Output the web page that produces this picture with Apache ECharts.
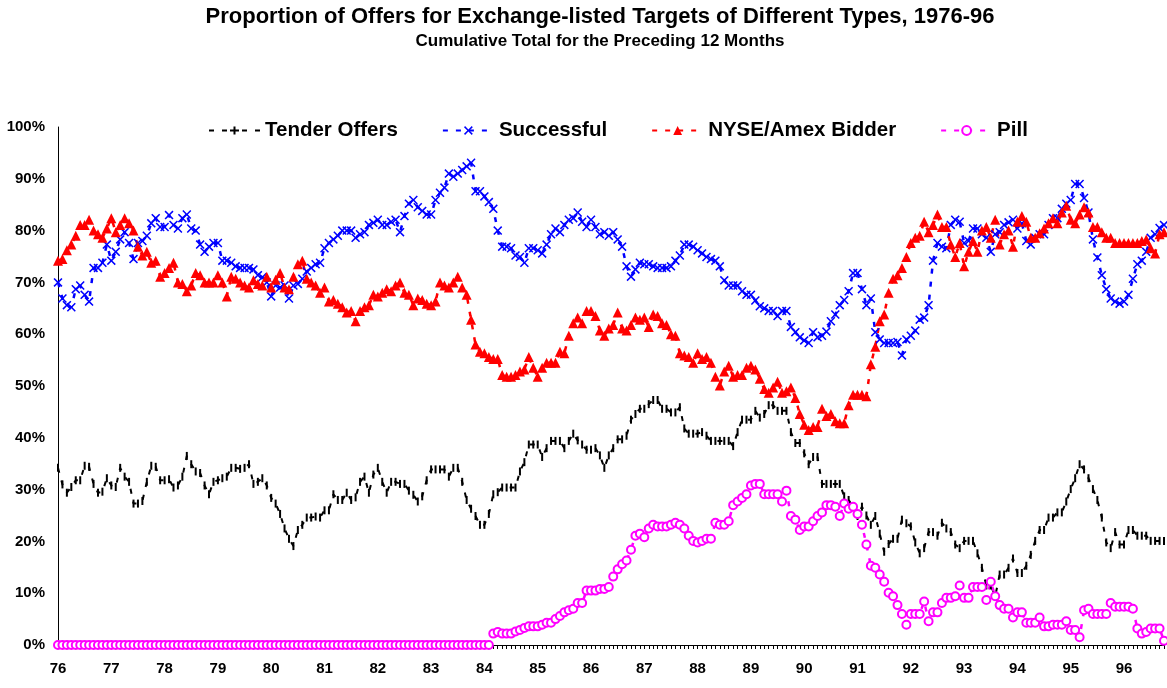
<!DOCTYPE html>
<html>
<head>
<meta charset="utf-8">
<script src="https://cdn.jsdelivr.net/npm/echarts@6/dist/echarts.min.js"></script>
<style>
  html, body { margin: 0; padding: 0; background: #fff; }
  #chart { width: 1167px; height: 688px; }
</style>
</head>
<body>
<div id="chart"></div>
<script>
// years on the x axis, one category per month (Jan 76 .. Oct 96)
const years = ['76','77','78','79','80','81','82','83','84','85','86','87','88','89','90','91','92','93','94','95','96'];
const monthsShown = 250;

// tender offers, % (one row per year)
const tenderOffers = [
  34.2, 31.0, 29.4, 30.5, 31.8, 31.8, 34.6, 34.4, 31.1, 29.4, 29.6, 32.2,
  30.8, 30.5, 34.2, 32.5, 31.5, 27.3, 27.3, 27.8, 31.5, 34.6, 34.4, 31.8,
  31.8, 32.0, 30.4, 30.8, 32.5, 36.5, 34.9, 33.5, 33.2, 30.8, 29.1, 31.5,
  31.8, 32.2, 32.5, 34.2, 34.2, 34.0, 34.2, 34.9, 31.1, 31.5, 32.2, 30.8,
  28.4, 27.3, 25.3, 22.5, 20.5, 19.1, 22.2, 23.2, 24.6, 24.6, 24.8, 24.6,
  26.0, 26.0, 29.1, 28.0, 28.0, 29.4, 28.0, 28.5, 31.5, 32.5, 29.4, 32.9,
  34.2, 31.5, 29.4, 31.5, 31.5, 31.1, 31.1, 29.8, 29.0, 27.7, 28.7, 31.8,
  33.9, 33.9, 33.9, 33.9, 32.5, 34.2, 34.2, 31.5, 28.0, 26.3, 24.9, 23.2,
  23.2, 25.3, 29.1, 29.5, 30.4, 30.4, 30.4, 30.4, 33.5, 35.3, 38.7, 38.7,
  38.7, 36.3, 38.0, 39.4, 39.4, 39.4, 38.0, 39.4, 40.8, 39.5, 38.7, 37.7,
  37.7, 38.0, 36.6, 34.2, 36.6, 38.0, 39.7, 39.7, 40.4, 43.5, 44.6, 45.6,
  45.6, 46.5, 47.3, 47.3, 45.6, 45.6, 44.9, 44.9, 45.9, 41.8, 40.8, 40.8,
  40.8, 41.1, 40.4, 39.4, 39.4, 39.4, 39.4, 39.4, 38.4, 41.1, 43.5, 43.5,
  43.5, 45.2, 43.9, 44.6, 46.3, 46.3, 45.2, 45.2, 45.2, 41.1, 39.0, 39.0,
  37.0, 34.9, 36.3, 36.3, 31.1, 31.1, 31.1, 31.1, 31.1, 28.7, 28.0, 26.7,
  24.9, 26.7, 25.0, 23.2, 24.9, 21.5, 18.0, 19.5, 20.5, 20.5, 24.2, 23.5,
  22.9, 19.8, 17.7, 18.7, 21.8, 21.8, 21.1, 23.6, 22.5, 21.8, 19.4, 18.7,
  20.1, 20.1, 20.1, 17.7, 14.9, 11.5, 11.5, 9.4, 13.6, 13.6, 14.9, 16.7,
  13.9, 13.9, 15.3, 17.4, 20.1, 22.2, 22.2, 24.6, 24.6, 25.6, 25.6, 27.7,
  30.1, 32.2, 34.9, 33.9, 32.2, 30.1, 28.0, 24.6, 19.8, 18.7, 21.8, 19.4,
  19.4, 22.2, 22.2, 21.1, 21.1, 21.1, 20.1, 20.1, 20.1, 20.1
];

// successful offers, %
const successful = [
  70.0, 66.9, 65.6, 65.2, 68.7, 69.4, 67.6, 66.3, 72.8, 72.8, 73.8, 77.3,
  74.2, 75.9, 78.3, 79.7, 77.6, 74.5, 77.6, 78.0, 79.0, 81.4, 82.4, 80.7,
  80.7, 83.0, 81.1, 80.4, 82.4, 83.1, 80.4, 80.0, 77.3, 75.9, 76.9, 77.6,
  77.6, 74.2, 74.2, 73.8, 73.1, 72.8, 72.8, 72.8, 72.5, 71.4, 71.0, 70.0,
  67.3, 69.4, 69.0, 69.4, 66.9, 69.4, 69.7, 70.7, 72.1, 72.8, 73.5, 73.8,
  76.6, 77.6, 78.3, 79.0, 80.0, 80.0, 80.0, 78.6, 79.3, 79.7, 81.1, 81.5,
  82.1, 81.1, 81.1, 81.7, 82.1, 79.7, 82.8, 85.2, 85.9, 84.5, 83.8, 83.1,
  83.1, 85.9, 87.3, 88.3, 91.0, 90.4, 91.0, 91.7, 92.4, 93.1, 87.6, 87.6,
  86.6, 85.5, 84.2, 80.0, 76.9, 76.9, 76.6, 75.2, 74.9, 73.8, 76.6, 76.6,
  76.2, 75.6, 77.3, 79.3, 80.4, 79.7, 81.1, 82.1, 82.4, 83.5, 81.7, 80.7,
  82.1, 80.7, 79.3, 79.7, 79.0, 79.7, 78.3, 76.9, 73.1, 71.1, 72.5, 73.8,
  73.5, 73.5, 73.1, 72.8, 72.8, 72.8, 73.1, 74.2, 75.2, 77.3, 77.3, 76.9,
  76.2, 75.6, 74.9, 74.5, 74.2, 73.1, 70.4, 69.4, 69.4, 69.4, 68.3, 67.6,
  67.6, 66.5, 65.4, 65.0, 64.5, 64.5, 63.5, 64.5, 64.5, 61.4, 60.4, 59.4,
  58.8, 58.3, 60.4, 59.4, 59.7, 60.5, 62.5, 63.8, 65.6, 66.6, 68.3, 71.8,
  71.8, 68.7, 65.6, 66.9, 60.4, 59.0, 58.3, 58.3, 58.3, 58.5, 55.9, 59.0,
  59.7, 60.7, 62.8, 63.2, 65.6, 74.2, 77.6, 76.9, 76.6, 81.1, 82.1, 81.7,
  77.6, 78.0, 80.4, 80.4, 79.3, 78.6, 75.9, 79.3, 79.7, 81.1, 81.6, 82.1,
  80.4, 81.4, 78.0, 77.3, 78.6, 79.3, 79.3, 81.1, 82.4, 82.4, 84.2, 85.2,
  85.9, 89.0, 89.0, 86.3, 83.5, 78.3, 74.8, 71.4, 68.7, 66.9, 66.3, 65.9,
  66.3, 67.6, 70.7, 73.5, 74.2, 75.9, 78.6, 79.3, 80.5, 81.1
];

// NYSE/Amex bidder, %
const nyseAmexBidder = [
  74.2, 74.5, 76.2, 77.3, 79.0, 81.1, 81.1, 82.1, 80.0, 79.3, 78.6, 80.4,
  82.4, 79.7, 81.1, 82.4, 81.4, 80.0, 76.9, 75.2, 75.9, 73.8, 74.2, 71.1,
  71.8, 72.8, 73.8, 70.0, 69.7, 68.3, 69.4, 71.8, 71.4, 70.0, 70.0, 70.0,
  71.4, 70.0, 67.3, 71.1, 70.7, 70.0, 69.4, 69.0, 70.4, 69.7, 69.4, 71.1,
  69.0, 70.5, 71.8, 69.0, 68.7, 71.1, 73.5, 74.2, 70.7, 70.0, 69.4, 68.0,
  69.0, 66.3, 66.6, 65.9, 65.2, 64.2, 64.5, 62.5, 64.5, 65.2, 65.6, 67.6,
  67.3, 68.0, 68.7, 68.3, 69.4, 70.0, 68.0, 67.6, 65.6, 66.9, 66.6, 65.9,
  65.6, 66.3, 70.0, 69.4, 69.0, 70.0, 71.1, 69.0, 67.6, 62.8, 58.0, 56.6,
  56.3, 55.6, 55.2, 55.2, 52.1, 51.8, 51.8, 52.1, 52.8, 53.2, 55.6, 53.5,
  51.8, 53.5, 54.5, 54.5, 54.5, 56.6, 56.3, 59.7, 62.1, 63.2, 62.1, 64.5,
  64.5, 63.5, 60.7, 59.7, 61.1, 61.8, 64.2, 61.1, 60.7, 61.8, 63.2, 62.8,
  63.2, 61.4, 63.8, 63.5, 62.1, 61.8, 60.0, 59.7, 56.3, 55.9, 55.6, 54.5,
  56.3, 55.2, 55.6, 54.5, 51.8, 50.1, 52.8, 53.9, 51.8, 52.1, 52.1, 53.5,
  53.9, 53.2, 51.4, 49.4, 48.7, 49.7, 50.8, 48.7, 49.0, 49.7, 47.7, 44.6,
  42.5, 41.5, 42.1, 42.1, 45.6, 44.2, 44.6, 43.2, 42.8, 42.8, 46.3, 48.3,
  48.3, 48.3, 48.0, 54.2, 57.6, 62.5, 63.8, 68.0, 70.7, 71.4, 72.8, 74.9,
  77.6, 78.6, 79.0, 81.7, 79.7, 81.1, 83.1, 80.7, 80.7, 77.3, 74.9, 77.6,
  73.1, 75.9, 78.0, 75.9, 80.0, 80.7, 78.6, 82.1, 77.3, 79.3, 80.0, 76.9,
  81.7, 82.8, 81.7, 78.6, 78.6, 79.5, 80.4, 81.4, 82.4, 81.4, 83.5, 84.8,
  82.1, 81.4, 83.1, 84.5, 83.5, 80.7, 80.7, 79.7, 78.6, 78.6, 77.6, 77.6,
  77.6, 77.6, 77.6, 77.6, 78.0, 78.3, 76.6, 75.6, 79.3, 79.7
];

// poison pill, %
const pill = [
  0, 0, 0, 0, 0, 0, 0, 0, 0, 0, 0, 0,
  0, 0, 0, 0, 0, 0, 0, 0, 0, 0, 0, 0,
  0, 0, 0, 0, 0, 0, 0, 0, 0, 0, 0, 0,
  0, 0, 0, 0, 0, 0, 0, 0, 0, 0, 0, 0,
  0, 0, 0, 0, 0, 0, 0, 0, 0, 0, 0, 0,
  0, 0, 0, 0, 0, 0, 0, 0, 0, 0, 0, 0,
  0, 0, 0, 0, 0, 0, 0, 0, 0, 0, 0, 0,
  0, 0, 0, 0, 0, 0, 0, 0, 0, 0, 0, 0,
  0, 0, 2.2, 2.5, 2.2, 2.2, 2.2, 2.6, 2.9, 3.3, 3.6, 3.6,
  3.6, 3.9, 4.3, 4.3, 5.0, 5.6, 6.3, 6.7, 7.0, 8.1, 8.1, 10.5,
  10.5, 10.5, 10.8, 10.8, 11.2, 13.2, 14.6, 15.6, 16.3, 18.4, 21.1, 21.5,
  20.8, 22.5, 23.2, 22.9, 22.9, 22.9, 23.2, 23.6, 23.2, 22.5, 21.1, 20.1,
  19.8, 20.1, 20.5, 20.5, 23.6, 23.2, 23.2, 23.9, 27.0, 27.7, 28.4, 29.1,
  30.8, 31.1, 31.1, 29.1, 29.1, 29.1, 29.1, 27.7, 29.8, 24.9, 24.2, 22.2,
  22.9, 22.9, 23.9, 24.9, 25.6, 27.0, 27.0, 26.7, 24.9, 27.3, 26.3, 26.7,
  25.3, 23.2, 19.4, 15.3, 14.9, 13.6, 12.2, 10.1, 9.4, 7.7, 6.0, 3.9,
  6.0, 6.0, 6.0, 8.4, 4.6, 6.3, 6.3, 8.1, 9.1, 9.1, 9.4, 11.5,
  9.1, 9.1, 11.2, 11.2, 11.2, 8.7, 12.2, 9.4, 7.7, 7.0, 7.0, 5.3,
  6.3, 6.3, 4.3, 4.3, 4.3, 5.3, 3.6, 3.6, 3.9, 3.9, 3.9, 4.6,
  2.9, 2.9, 1.5, 6.7, 7.0, 6.0, 6.0, 6.0, 6.0, 8.1, 7.4, 7.4,
  7.4, 7.4, 7.0, 3.2, 2.2, 2.5, 3.2, 3.2, 3.2, 0.8
];

const months = [];
years.forEach(y => {
  for (let m = 1; m <= 12; m++) {
    if (months.length < monthsShown) months.push(y + '-' + m);
  }
});

const font = 'Liberation Sans, Arial, sans-serif';
const crossPath = 'path://M0,1.2 L1.2,0 L5,3.8 L8.8,0 L10,1.2 L6.2,5 L10,8.8 L8.8,10 L5,6.2 L1.2,10 L0,8.8 L3.8,5 Z';
// legend icon for tender offers: dashed line with a thin upright bar
const tenderIcon = 'path://M0,3 h5 v2 h-5 Z M13,3 h5 v2 h-5 Z M21,3 h9 v2 h-9 Z M24.5,0 h2 v8 h-2 Z M33,3 h5 v2 h-5 Z M46,3 h5 v2 h-5 Z';

const chart = echarts.init(document.getElementById('chart'));

chart.setOption({
  animation: false,
  backgroundColor: '#fff',
  title: [
    {
      text: 'Proportion of Offers for Exchange-listed Targets of Different Types, 1976-96',
      left: 600, textAlign: 'center', top: 6, padding: 0,
      textStyle: { fontFamily: font, fontWeight: 'bold', fontSize: 22, color: '#000' }
    },
    {
      text: 'Cumulative Total for the Preceding 12 Months',
      left: 600, textAlign: 'center', top: 33, padding: 0,
      textStyle: { fontFamily: font, fontWeight: 'bold', fontSize: 17, color: '#000' }
    }
  ],
  legend: {
    left: 209, top: 120, padding: 0,
    itemWidth: 51, itemHeight: 11, itemGap: 44,
    textStyle: { fontFamily: font, fontWeight: 'bold', fontSize: 20.5, color: '#000' },
    data: [
      { name: 'Tender Offers', icon: tenderIcon },
      'Successful', 'NYSE/Amex Bidder', 'Pill'
    ]
  },
  grid: { left: 58, right: 3, top: 127, bottom: 43 },
  xAxis: {
    type: 'category',
    data: months,
    boundaryGap: false,
    axisLine: { lineStyle: { color: '#000', width: 1 } },
    axisTick: { interval: 0, length: 4, lineStyle: { color: '#000' } },
    axisLabel: {
      interval: 11, margin: 16,
      formatter: v => v.split('-')[0],
      fontFamily: font, fontWeight: 'bold', fontSize: 15, color: '#000'
    },
    splitLine: { show: false }
  },
  yAxis: {
    type: 'value', min: 0, max: 100, interval: 10,
    axisLine: { show: true, lineStyle: { color: '#000', width: 1 } },
    axisTick: { show: false },
    splitLine: { show: false },
    axisLabel: {
      formatter: '{value}%', margin: 13,
      fontFamily: font, fontWeight: 'bold', fontSize: 15, color: '#000'
    }
  },
  series: [
    {
      name: 'Tender Offers', type: 'line', data: tenderOffers,
      showAllSymbol: true, symbol: 'rect', symbolSize: [2, 8],
      itemStyle: { color: '#000' },
      lineStyle: { color: '#000', width: 2, type: [5, 8] }
    },
    {
      name: 'Successful', type: 'line', data: successful,
      showAllSymbol: true, symbol: crossPath, symbolSize: 9,
      itemStyle: { color: '#0000ff' },
      lineStyle: { color: '#0000ff', width: 2.5, type: [5, 8] }
    },
    {
      name: 'NYSE/Amex Bidder', type: 'line', data: nyseAmexBidder,
      showAllSymbol: true, symbol: 'triangle', symbolSize: 10,
      itemStyle: { color: '#ff0000' },
      lineStyle: { color: '#ff0000', width: 2.5, type: [5, 8] }
    },
    {
      name: 'Pill', type: 'line', data: pill,
      showAllSymbol: true, symbol: 'emptyCircle', symbolSize: 8,
      itemStyle: { color: '#ff00ff', borderColor: '#ff00ff', borderWidth: 1.3 },
      lineStyle: { color: '#ff00ff', width: 2.5, type: [5, 8] }
    }
  ]
});
</script>
</body>
</html>
